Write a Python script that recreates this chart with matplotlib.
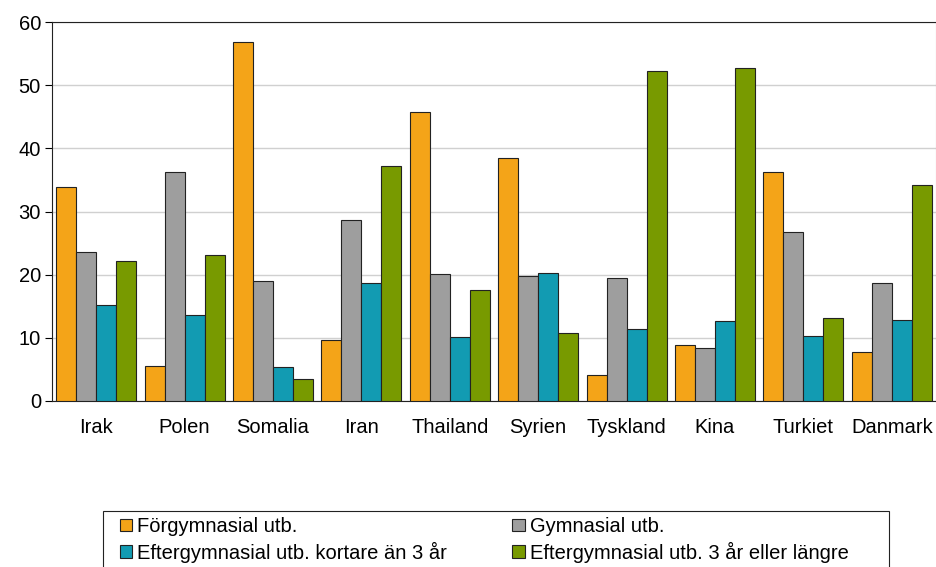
import numpy as np
import matplotlib
matplotlib.use("Agg")
import matplotlib.pyplot as plt
from matplotlib.patches import Rectangle

plt.rcParams['font.family'] = ['Liberation Sans', 'DejaVu Sans']

countries = ["Irak", "Polen", "Somalia", "Iran", "Thailand", "Syrien",
             "Tyskland", "Kina", "Turkiet", "Danmark"]
forgymn = [33.9, 5.5, 56.8, 9.7, 45.8, 38.4, 4.1, 8.9, 36.3, 7.8]
gymn = [23.6, 36.2, 19.0, 28.7, 20.1, 19.8, 19.4, 8.4, 26.8, 18.7]
kort = [15.2, 13.6, 5.4, 18.7, 10.1, 20.2, 11.4, 12.7, 10.3, 12.9]
lang = [22.2, 23.1, 3.5, 37.2, 17.5, 10.7, 52.2, 52.7, 13.2, 34.2]

labels = ["Förgymnasial utb.", "Gymnasial utb.",
          "Eftergymnasial utb. kortare än 3 år",
          "Eftergymnasial utb. 3 år eller längre"]
colors = ["#F4A418", "#9E9E9E", "#129BB2", "#789A00"]

fig = plt.figure(figsize=(9.37, 5.67), dpi=100)
ax = fig.add_axes([52/937, 1-401/567, 884/937, 379/567])

x = np.arange(len(countries))
w = 0.226
series = [forgymn, gymn, kort, lang]
handles = []
for i, s in enumerate(series):
    b = ax.bar(x + (i - 1.5)*w, s, w, color=colors[i], edgecolor="#222222",
               linewidth=0.8, label=labels[i], zorder=3)
    handles.append(b)

ax.set_xlim(-0.5, len(countries) - 0.5)
ax.set_ylim(0, 60)
ax.set_yticks(range(0, 61, 10))
ax.yaxis.grid(True, color="#D0D0D0", linewidth=1, zorder=0)
ax.set_xticks(x)
ax.set_xticklabels(countries)
ax.tick_params(axis='x', length=0, pad=12, labelsize=14.5)
ax.tick_params(axis='y', length=5, labelsize=14.5, pad=3)
for sp in ax.spines.values():
    sp.set_color("#222222")
ax.spines['right'].set_color("#BBBBBB")

# order so rows read: Förgymn | Gymn, kort | lång
order = [0, 2, 1, 3]
leg = fig.legend(handles=[handles[i] for i in order],
                 labels=[labels[i] for i in order], ncol=2, loc='upper left',
                 bbox_to_anchor=(120/937, 1-517/567),
                 fontsize=14.5, frameon=False,
                 handlelength=0.6, handleheight=0.6,
                 handletextpad=0.25, labelspacing=0.28, borderaxespad=0,
                 borderpad=0, columnspacing=3.25)

# legend box (cut off by the bottom edge as in the original)
fig.patches.append(Rectangle((103/937, -0.02), 786/937, (1-511/567) + 0.02,
                             transform=fig.transFigure, fill=False,
                             edgecolor="#222222", linewidth=0.8))

fig.savefig("out.png", dpi=100)
